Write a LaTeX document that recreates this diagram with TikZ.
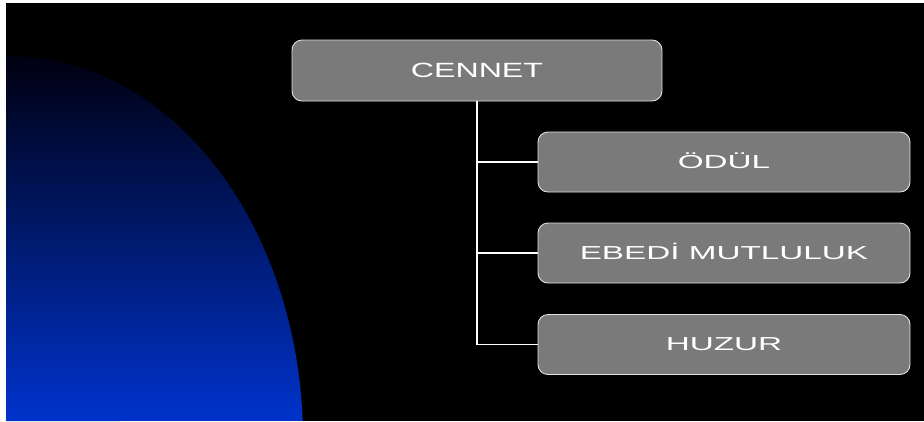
\documentclass[tikz,border=0pt]{standalone}
\usepackage{fontspec}
\setmainfont{Liberation Sans}
\newfontfamily\cenfont[FakeStretch=1.56]{Liberation Sans}
\newfontfamily\kidfont[FakeStretch=1.77]{Liberation Sans}
\definecolor{boxgray}{RGB}{122,122,122}
\definecolor{boxedge}{RGB}{225,225,225}
\definecolor{bluetop}{RGB}{0,0,16}
\definecolor{bluemid}{RGB}{0,40,155}
\definecolor{bluebot}{RGB}{0,51,204}
\begin{document}
\begin{tikzpicture}[x=1pt,y=-1pt,
  topbox/.style={draw=boxedge, line width=0.9pt, fill=boxgray, rounded corners=10pt,
    minimum width=370pt, minimum height=61pt, inner sep=0pt, text=white,
    font=\cenfont\fontsize{20.6}{24}\selectfont, text height=14pt, text depth=0pt},
  kidbox/.style={draw=boxedge, line width=0.9pt, fill=boxgray, rounded corners=10pt,
    minimum width=372pt, minimum height=60pt, inner sep=0pt, text=white,
    font=\kidfont\fontsize{18.8}{22}\selectfont, text height=12.9pt, text depth=0pt},
  link/.style={draw=white, line width=1.8pt}]
\useasboundingbox (0,0) rectangle (924,421);
\fill[white] (0,0) rectangle (924,421);
\fill[black] (6,3) rectangle (924,421);
% blue dome
\shade[top color=bluetop, middle color=bluemid, bottom color=bluebot]
  (6,421) -- (6,56) -- (10,56)
  arc[start angle=-90, end angle=-2.84, x radius=293, y radius=384]
  -- cycle;
% nodes
\node[topbox] (cennet) at (477,70.5) {CENNET};
\node[kidbox] (odul) at (724,162) {ÖDÜL};
\node[kidbox] (ebedi) at (724,253) {EBEDİ MUTLULUK};
\node[kidbox] (huzur) at (724,344.5) {HUZUR};
% connectors
\draw[link] (cennet.south) -- (cennet.south |- huzur.west) -- (huzur.west);
\draw[link] (cennet.south |- odul.west) -- (odul.west);
\draw[link] (cennet.south |- ebedi.west) -- (ebedi.west);
\end{tikzpicture}
\end{document}
